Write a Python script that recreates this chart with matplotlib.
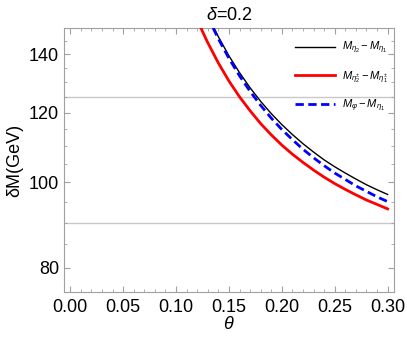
import matplotlib
matplotlib.use('Agg')
import matplotlib.pyplot as plt
from matplotlib.ticker import FixedLocator, NullFormatter

plt.rcParams['font.family'] = ['Liberation Sans', 'DejaVu Sans']
plt.rcParams['mathtext.fontset'] = 'custom'
plt.rcParams['mathtext.rm'] = 'Liberation Sans'
plt.rcParams['mathtext.it'] = 'Liberation Sans:italic'
plt.rcParams['mathtext.fallback'] = 'cm'

# values (theta vs delta M in GeV)
theta_black = [0.135, 0.14, 0.15, 0.16, 0.17, 0.18, 0.19, 0.20, 0.21, 0.22,
               0.23, 0.24, 0.25, 0.26, 0.27, 0.28, 0.29, 0.30]
dm_black = [150.7, 146.6, 139.4, 133.4, 128.2, 123.7, 119.8, 116.4, 113.4, 110.7,
            108.3, 106.1, 104.2, 102.5, 100.9, 99.4, 98.1, 96.9]

theta_red = [0.12, 0.125, 0.13, 0.14, 0.15, 0.16, 0.17, 0.18, 0.19, 0.20, 0.21,
             0.22, 0.23, 0.24, 0.25, 0.26, 0.27, 0.28, 0.29, 0.30]
dm_red = [153.4, 148.6, 144.3, 136.8, 130.5, 125.2, 120.7, 116.7, 113.3, 110.3, 107.7,
          105.4, 103.3, 101.4, 99.7, 98.2, 96.8, 95.5, 94.4, 93.3]

theta_blue = [0.135, 0.14, 0.15, 0.16, 0.17, 0.18, 0.19, 0.20, 0.21, 0.22,
              0.23, 0.24, 0.25, 0.26, 0.27, 0.28, 0.29, 0.30]
dm_blue = [150.0, 145.8, 138.5, 132.3, 127.0, 122.4, 118.4, 114.9, 111.9, 109.1,
           106.7, 104.5, 102.5, 100.8, 99.1, 97.7, 96.3, 95.1]

ref_lines = [125, 90]
y_major = [80, 100, 120, 140]
y_minor = [75, 85, 90, 95, 105, 110, 115, 125, 130, 135, 145, 150]
x_major = [0.00, 0.05, 0.10, 0.15, 0.20, 0.25, 0.30]

labels = [r'$M_{\eta_2}-M_{\eta_1}$',
          r'$M_{\eta_2^{\pm}}-M_{\eta_1^{\pm}}$',
          r'$M_{\varphi}-M_{\eta_1}$']

fig = plt.figure(figsize=(4.07, 3.49), dpi=100)
ax = fig.add_axes([0.157, 0.163, 0.811, 0.757])

for v in ref_lines:
    ax.axhline(v, color='#c8c8c8', lw=1.0, zorder=1)

ax.plot(theta_black, dm_black, color='black', lw=1.0, label=labels[0], zorder=3)
ax.plot(theta_red, dm_red, color='#ff0000', lw=2.0, label=labels[1], zorder=3)
ax.plot(theta_blue, dm_blue, color='#0000ff', lw=2.0, ls=(0, (3, 1.6)), label=labels[2], zorder=4)

ax.set_yscale('log')
ax.set_xlim(-0.006, 0.306)
ax.set_ylim(75, 150)
ax.yaxis.set_major_locator(FixedLocator(y_major))
ax.yaxis.set_minor_locator(FixedLocator(y_minor))
ax.yaxis.set_minor_formatter(NullFormatter())
ax.set_yticklabels([str(v) for v in y_major])
ax.set_xticks(x_major)
ax.set_xticklabels(['%.2f' % v for v in x_major])
ax.set_xticks([i * 0.01 for i in range(31)], minor=True)

frame_col = '#a0a0a0'
for sp in ax.spines.values():
    sp.set_color(frame_col)
ax.tick_params(which='both', direction='in', top=True, right=True,
               color=frame_col, labelsize=13, labelcolor='black')
ax.tick_params(which='major', length=4)
ax.tick_params(which='minor', length=2)
ax.tick_params(axis='x', pad=5)

ax.set_xlabel(r'$\theta$', fontsize=13, labelpad=0)
ax.set_ylabel('δM(GeV)', fontsize=13)
ax.set_title(r'$\delta$=0.2', fontsize=13)

ax.legend(loc='upper left', frameon=False, fontsize=8, handlelength=3.6,
          handletextpad=0.6, labelspacing=1.15, borderpad=0, borderaxespad=0,
          bbox_to_anchor=(0.70, 0.955))

fig.savefig('out.png', dpi=100)
